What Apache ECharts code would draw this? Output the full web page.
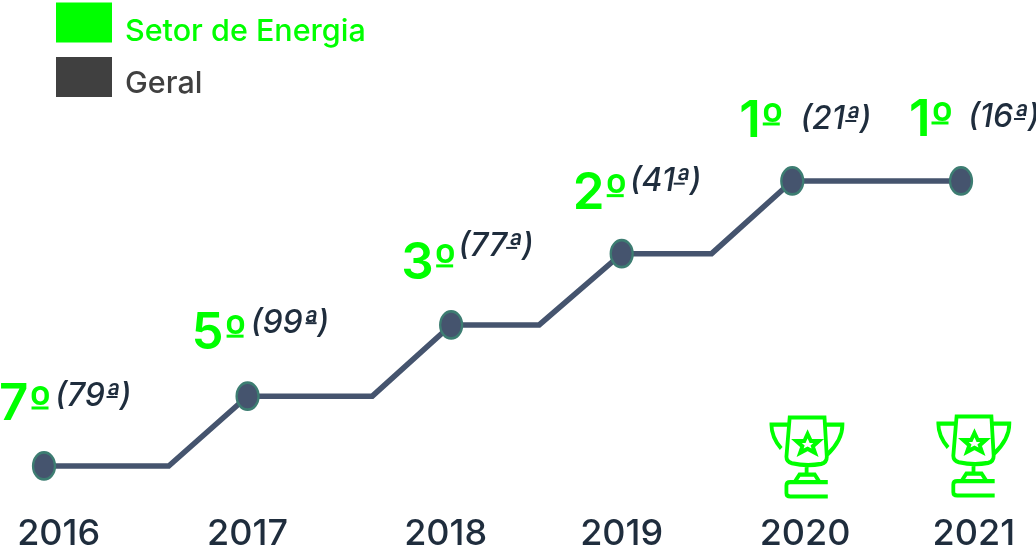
<!DOCTYPE html>
<html><head><meta charset="utf-8">
<style>html,body{margin:0;padding:0;background:#fff}#c{width:1036px;height:548px}</style>
<script src="https://cdn.jsdelivr.net/npm/echarts@6/dist/echarts.min.js"></script></head>
<body><div id="c"></div>
<script>
const tickYears = ['2016','2017','2018','2019','2020','2021'];
const tickPositions = [2016.08,2017.11,2018.19,2019.15,2020.15,2021.07];
const pointTimes = [2016,2017.11,2018.22,2019.15,2020.08,2021];
const pointLevels = [0,0.98,1.98,2.98,4,4];
const sectorRanks = [7,5,3,2,1,1];
const generalRanks = [79,99,77,41,21,16];
const pathTimes = [2016,2016.68,2017.11,2017.79,2018.22,2018.70,2019.15,2019.64,2020.08,2021];
const pathLevels = [0,0,0.98,0.98,1.98,1.98,2.98,2.98,4,4];
const trophyTimes = [2020.16,2021.07];
const trophyLevels = [0.126,0.14];
const sectorOffsets = [[-45,-61],[-56,-62],[-50,-61],[-49,-60],[-53,-59],[-52,-60]];
const generalOffsets = [[11,-70],[3,-73],[7,-79],[8,-72],[8,-62],[7,-64]];
const sectorBars = [[-4,-58],[-12.5,-60],[-6.5,-59],[-6.5,-58],[-21,-57],[-21,-58]];
const generalBars = [[68,-69],[63.5,-73],[60.5,-77],[57.5,-70],[58.5,-60],[58.5,-62]];
const trophyPath = 'path://M148 50L255 50L262 170Q262 188 245 192Q200 200 155 190Q138 185 138 170ZM122 145Q92 110 92 72L148 72M255 72L310 72Q310 120 262 165M200 196L200 225M165 245L178 225L225 225L238 245M265 248L150 248Q138 248 138 258L138 282Q138 292 150 292L265 292M203 100L213 122L237 122L219 138L226 158L203 146L180 158L187 138L169 122L193 122Z';
const GREEN='#00ff00', DARK='#1f2d3d', LINE='#45546e';
const font='Inter';
const chart=echarts.init(document.getElementById('c'),null,{renderer:'canvas'});
const pointSet=new Set(pointTimes);
const rel=(a,b)=>[a[0]-b[0],a[1]-b[1]];
const legendText={fontFamily:font,fontSize:30.5,fontWeight:500,lineHeight:20};
chart.setOption({
  animation:false,
  backgroundColor:'#fff',
  grid:{left:0,right:0,top:0,bottom:30,outerBoundsMode:'none'},
  legend:{
    left:56,top:-2,padding:0,orient:'vertical',itemWidth:56,itemHeight:40,itemGap:7.5,
    selectedMode:false,
    formatter:n=>n==='Geral'?'{g|'+n+'}':'{s|'+n+'}',
    textStyle:{rich:{
      s:Object.assign({color:GREEN,padding:[18,0,0,8]},legendText),
      g:Object.assign({color:'#404040',padding:[14,0,0,8]},legendText)}},
    data:[
      {name:'Setor de Energia',icon:'rect',itemStyle:{color:GREEN,opacity:1}},
      {name:'Geral',icon:'rect',itemStyle:{color:'#404040',opacity:1}}
    ]
  },
  xAxis:{type:'value',min:2015.76,max:2021.409,splitLine:{show:false},axisLine:{show:false},axisTick:{show:false},
    axisLabel:{customValues:tickPositions,margin:-2,showMinLabel:true,showMaxLabel:true,
      fontFamily:font,fontSize:36,fontWeight:500,color:DARK,hideOverlap:false,
      formatter:v=>tickYears[tickPositions.indexOf(v)]||''}},
  yAxis:{type:'value',min:-0.73,max:6.54,show:false},
  series:[
    {name:'Trajetória',type:'line',z:2,silent:true,
      data:pathTimes.map((t,i)=>({value:[t,pathLevels[i]],symbol:pointSet.has(t)?'circle':'none',symbolSize:[22,27]})),
      lineStyle:{color:LINE,width:5.5,join:'miter'},showSymbol:true,showAllSymbol:true,
      itemStyle:{color:LINE,borderColor:'#3d7d72',borderWidth:2.5}},
    {name:'Setor de Energia',type:'scatter',z:3,itemStyle:{color:GREEN,opacity:1},symbol:'rect',symbolSize:[17,3],
      data:pointTimes.map((t,i)=>({value:[t,pointLevels[i],sectorRanks[i]],symbolOffset:sectorBars[i],
        label:{show:true,position:'inside',align:'left',verticalAlign:'middle',offset:rel(sectorOffsets[i],sectorBars[i]),
          formatter:'{n|'+sectorRanks[i]+'}{o|º}',
          rich:{n:{fontFamily:font,fontSize:51,fontWeight:600,color:GREEN},
                o:{fontFamily:font,fontSize:50,fontWeight:600,color:GREEN,verticalAlign:'top',padding:[3,0,0,0]}}}}))},
    {name:'Geral',type:'scatter',z:3,itemStyle:{color:DARK,opacity:1},symbol:'rect',symbolSize:[11,2],
      data:pointTimes.map((t,i)=>({value:[t,pointLevels[i],generalRanks[i]],symbolOffset:generalBars[i],
        label:{show:true,position:'inside',align:'left',verticalAlign:'middle',offset:rel(generalOffsets[i],generalBars[i]),
          formatter:'('+generalRanks[i]+'ª)',
          fontFamily:font,fontSize:32,fontStyle:'italic',fontWeight:500,color:DARK}}))},
    {name:'Troféu',type:'scatter',z:3,silent:true,symbol:trophyPath,symbolSize:[71,79],
      data:trophyTimes.map((t,i)=>[t,trophyLevels[i]]),
      itemStyle:{color:'rgba(0,0,0,0)',opacity:1,borderColor:GREEN,borderWidth:4}}
  ]
});
</script></body></html>
